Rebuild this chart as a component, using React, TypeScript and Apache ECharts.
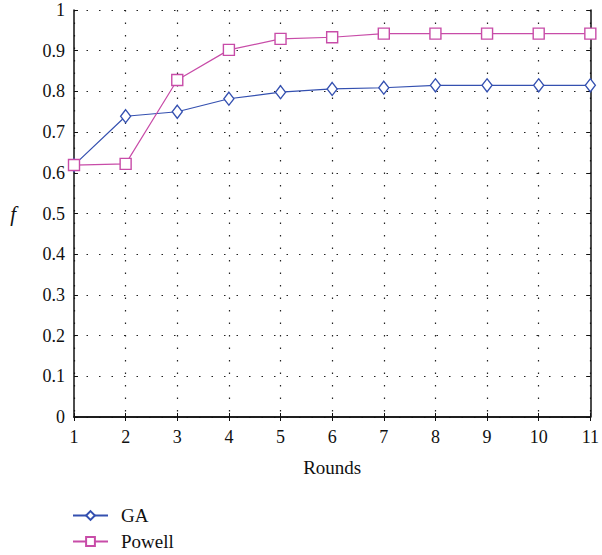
import React, { useEffect, useRef } from "react";
import * as echarts from "echarts";

const rounds = [1, 2, 3, 4, 5, 6, 7, 8, 9, 10, 11];
const gaValues = [0.619, 0.739, 0.75, 0.782, 0.798, 0.806, 0.809, 0.815, 0.815, 0.815, 0.815];
const powellValues = [0.619, 0.622, 0.828, 0.902, 0.929, 0.933, 0.942, 0.942, 0.942, 0.942, 0.942];
const seriesNames = ["GA", "Powell"];

const FONT = "Liberation Serif";

export default function App() {
  const ref = useRef<HTMLDivElement>(null);
  useEffect(() => {
    const chart = echarts.init(ref.current!, null, { renderer: "svg" });
    const gridLine = { show: true, lineStyle: { color: "#222", type: [1.5, 11], width: 1.2 } };
    const frameAxis = {
      axisLine: { show: true, lineStyle: { color: "#111", width: 1.5 } },
      axisTick: { show: true, inside: true, length: 4, lineStyle: { color: "#111" } },
      axisLabel: { show: false },
      splitLine: { show: false },
    };
    chart.setOption({
      animation: false,
      grid: { left: 74, right: 8, top: 10, bottom: 138 },
      legend: {
        orient: "vertical",
        left: 72,
        top: 506,
        height: 49,
        padding: 0,
        itemWidth: 35,
        itemHeight: 11,
        itemGap: 7,
        textStyle: { fontFamily: FONT, fontSize: 19, color: "#111", padding: [0, 0, 0, 8] },
        data: seriesNames,
      },
      xAxis: [
        {
          type: "value",
          min: 1,
          max: 11,
          interval: 1,
          name: "Rounds",
          nameLocation: "middle",
          nameGap: 41,
          nameTextStyle: { fontFamily: FONT, fontSize: 19, color: "#111" },
          axisLine: { show: true, lineStyle: { color: "#111", width: 1.5 } },
          axisTick: { show: true, inside: true, length: 4, lineStyle: { color: "#111" } },
          axisLabel: { fontFamily: FONT, fontSize: 18, color: "#111", margin: 11 },
          splitLine: gridLine,
        },
        { type: "value", position: "top", min: 1, max: 11, interval: 1, ...frameAxis },
      ],
      yAxis: [
        {
          type: "value",
          min: 0,
          max: 1,
          interval: 0.1,
          name: "f",
          nameLocation: "middle",
          nameRotate: 0,
          nameGap: 58,
          nameTextStyle: { fontFamily: FONT, fontSize: 21, fontStyle: "italic", color: "#111" },
          axisLine: { show: true, lineStyle: { color: "#111", width: 1.5 } },
          axisTick: { show: true, inside: true, length: 4, lineStyle: { color: "#111" } },
          axisLabel: { fontFamily: FONT, fontSize: 18, color: "#111", margin: 9 },
          splitLine: gridLine,
        },
        { type: "value", position: "right", min: 0, max: 1, interval: 0.1, ...frameAxis },
      ],
      series: [
        {
          name: seriesNames[0],
          type: "line",
          data: rounds.map((r, i) => [r, gaValues[i]]),
          symbol: "diamond",
          symbolSize: [10, 13],
          lineStyle: { color: "#3450b0", width: 1.2 },
          itemStyle: { color: "#fff", borderColor: "#3450b0", borderWidth: 1.4 },
        },
        {
          name: seriesNames[1],
          type: "line",
          data: rounds.map((r, i) => [r, powellValues[i]]),
          symbol: "rect",
          symbolSize: 11,
          lineStyle: { color: "#c84ca8", width: 1.2 },
          itemStyle: { color: "#fff", borderColor: "#c84ca8", borderWidth: 1.4 },
        },
      ],
    });
    return () => chart.dispose();
  }, []);
  return <div ref={ref} style={{ width: 602, height: 555, position: "absolute", left: 0, top: 0, background: "#fff" }} />;
}
